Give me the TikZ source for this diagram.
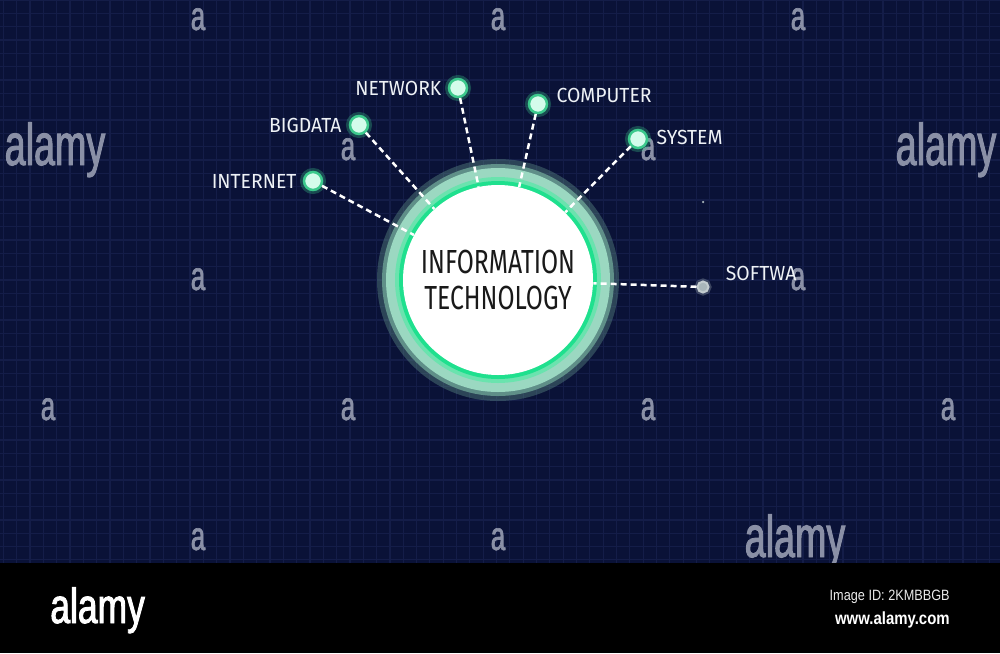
\documentclass[tikz,border=0pt]{standalone}
\usepackage{fontspec}
\usetikzlibrary{positioning}
\newfontfamily\tagfont{Fira Sans}[FakeStretch=0.95]
\newfontfamily\hubfont{Fira Sans}[FakeStretch=0.74]
\newfontfamily\markfont{Liberation Sans}[FakeStretch=0.64, FakeBold=1.6]
\newfontfamily\logofont{Liberation Sans}[FakeStretch=0.72, FakeBold=1.8]
\newfontfamily\footfont{Liberation Sans}[FakeStretch=0.85]
\definecolor{bgnavy}{HTML}{0A1237}
\definecolor{gridblue}{HTML}{141D48}
\definecolor{ringhaze}{HTML}{5F8F88}
\definecolor{ringsoft}{HTML}{9BD8C1}
\definecolor{ringglow}{HTML}{6AE3AE}
\definecolor{ringline}{HTML}{1FE08E}
\definecolor{dotmint}{HTML}{D4FCEB}
\definecolor{dotgreen}{HTML}{3CC98C}
\definecolor{fadedot}{HTML}{A9B6BA}
\definecolor{wmgray}{HTML}{8A90A6}
\definecolor{tagwhite}{HTML}{EEF2F6}
\tikzset{
  gridline/.style={draw=gridblue, line width=0.25mm},
  spoke/.style={draw=white, line width=0.5mm, dash pattern=on 1.2mm off 0.8mm},
  hub/.style={
    circle, inner sep=0pt,
    minimum size=3.6mm,
    fill=dotmint, draw=dotgreen, line width=0.5mm,
    preaction={draw=dotgreen, line width=1.6mm, opacity=.3}},
  hubfaded/.style={
    circle, inner sep=0pt,
    minimum size=2.2mm,
    fill=fadedot, draw=fadedot!70!white, line width=0.4mm,
    preaction={draw=fadedot, line width=1.2mm, opacity=.3}},
  speck/.style={circle, inner sep=0pt, minimum size=0.5mm, fill=fadedot},
  tag/.style={inner sep=0pt, text=tagwhite, font=\tagfont\fontsize{11.6}{12}\selectfont},
  itdisk/.style={
    circle, inner sep=0pt,
    minimum size=38mm,
    fill=white, text=black!90,
    align=center,
    font=\hubfont\fontsize{19}{20}\selectfont},
  bigmark/.style={anchor=base, inner sep=0pt, text=wmgray, font=\markfont\fontsize{33.5}{34}\selectfont},
  smallmark/.style={anchor=base, inner sep=0pt, text=wmgray, font=\markfont\fontsize{23}{23}\selectfont},
}
\begin{document}
\begin{tikzpicture}[x=0.2mm,y=-0.2mm]
  \useasboundingbox (0,0) rectangle (1000,653);
  \fill[bgnavy] (0,0) rectangle (1000,563);
  % background grid
  \foreach \gx in {3.3,16.63,...,1000} \draw[gridline] (\gx,0) -- (\gx,563);
  \foreach \gy in {0,13.33,...,563} \draw[gridline] (0,\gy) -- (1000,\gy);
  % watermarks
  \node[bigmark] (wmleft) at (55,165) {alamy};
  \node[bigmark] (wmright) at (946,165) {alamy};
  \node[bigmark] (wmlow) at (795,557) {alamy};
  \foreach \mx/\my [count=\i] in {198/30,498/30,798/30,348/160,648/160,198/290,798/290,
      48/420,348/420,648/420,948/420,198/550,498/550}
    \node[smallmark] (wma\i) at (\mx,\my) {a};
  % glowing rings round the centre
  \coordinate (c) at (498,280);
  \fill[ringhaze, opacity=.4] (c) circle[radius=121];
  \fill[ringhaze] (c) circle[radius=116];
  \fill[ringsoft] (c) circle[radius=112];
  \fill[ringglow] (c) circle[radius=103];
  \fill[ringline] (c) circle[radius=99];
  \node[itdisk] (it) at (c) {INFORMATION\\TECHNOLOGY};
  % satellites
  \node[hub] (internet) at (313,181) {};
  \node[hub] (bigdata) at (359,125) {};
  \node[hub] (network) at (458,88) {};
  \node[hub] (computer) at (538,104) {};
  \node[hub] (system) at (638,139) {};
  \node[hubfaded] (software) at (703,287) {};
  \node[speck] (speck) at (703,202) {};
  \node[tag, left=1.2mm of internet] (internettag) {INTERNET};
  \node[tag, left=1.4mm of bigdata] (bigdatatag) {BIGDATA};
  \node[tag, left=1.2mm of network] (networktag) {NETWORK};
  \node[tag, right=1.6mm of computer, yshift=1.8mm] (computertag) {COMPUTER};
  \node[tag, right=1.6mm of system, yshift=0.4mm] (systemtag) {SYSTEM};
  \node[tag, right=3.2mm of software, yshift=2.8mm] (softwaretag) {SOFTWA};
  \foreach \s in {internet,bigdata,network,computer,system,software}
    \draw[spoke] (\s) -- (it);
  % footer bar
  \fill[black] (0,563) rectangle (1000,653);
  \node[anchor=base west, inner sep=0pt, text=white, font=\logofont\fontsize{28}{28}\selectfont] (logo) at (50,623) {alamy};
  \node[anchor=base east, inner sep=0pt, text=white!92!black, font=\footfont\fontsize{8.5}{9}\selectfont] (imageid) at (950,600) {Image ID: 2KMBBGB};
  \node[anchor=base east, inner sep=0pt, text=white, font=\footfont\bfseries\fontsize{10}{10}\selectfont] (site) at (950,624) {www.alamy.com};
\end{tikzpicture}
\end{document}
